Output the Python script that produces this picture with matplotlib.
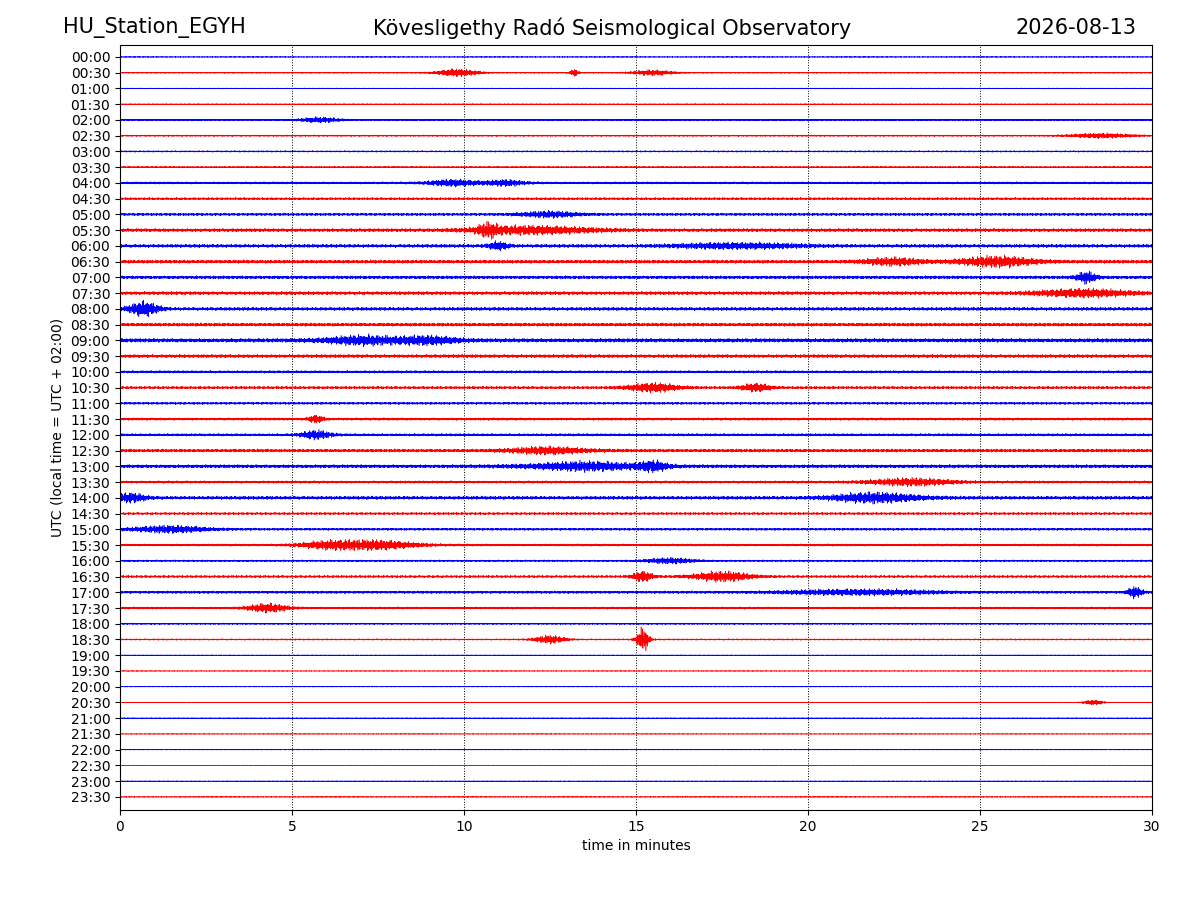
import numpy as np
import matplotlib
matplotlib.use('Agg')
import matplotlib.pyplot as plt

station = 'HU_Station_EGYH'
title = 'Kövesligethy Radó Seismological Observatory'
date = '2026-08-13'
row_labels = ['%02d:%02d' % (h, m) for h in range(24) for m in (0, 30)]

# background noise level of each 30 min line, in line spacings
base_amp = [0.03, 0.05, 0.04, 0.04, 0.06, 0.06, 0.06, 0.06, 0.09, 0.09, 0.10, 0.13,
            0.13, 0.13, 0.12, 0.13, 0.13, 0.13, 0.15, 0.13, 0.10, 0.10, 0.09, 0.10,
            0.10, 0.12, 0.13, 0.10, 0.13, 0.09, 0.09, 0.09, 0.07, 0.09, 0.10, 0.09,
            0.06, 0.06, 0.03, 0.025, 0.025, 0.03, 0.04, 0.025, 0.025, 0.025, 0.03, 0.03]

# visible bursts: line index, centre (min), half width (min), amplitude
burst_row = [1, 1, 1, 4, 5, 8, 8, 10, 11, 11, 12, 12, 13, 13, 14, 15, 16, 18, 18, 21, 21,
             23, 24, 25, 26, 26, 27, 28, 28, 30, 31, 31, 32, 33, 33, 34, 34, 35, 37, 37, 41]
burst_min = [9.8, 15.5, 13.2, 5.8, 28.5, 9.7, 11.2, 12.5, 12.0, 10.7, 11.0, 18.0, 25.5, 22.5,
             28.1, 28.0, 0.7, 7.0, 9.0, 15.5, 18.5, 5.7, 5.7, 12.5, 13.5, 15.5, 23.0, 22.0, 0.3,
             1.5, 7.5, 6.0, 16.0, 17.5, 15.2, 21.5, 29.5, 4.3, 15.2, 12.5, 28.3]
burst_wid = [0.4, 0.4, 0.08, 0.4, 0.6, 0.5, 0.4, 0.6, 1.2, 0.2, 0.2, 1.2, 0.8, 0.6,
             0.2, 0.9, 0.3, 0.8, 0.6, 0.5, 0.3, 0.15, 0.3, 0.8, 1.2, 0.3, 0.9, 0.9, 0.3,
             0.8, 0.8, 0.6, 0.5, 0.6, 0.2, 1.5, 0.15, 0.4, 0.12, 0.3, 0.2]
burst_amp = [0.30, 0.20, 0.30, 0.20, 0.18, 0.25, 0.20, 0.20, 0.30, 0.40, 0.30, 0.20, 0.35, 0.25,
             0.40, 0.30, 0.50, 0.30, 0.30, 0.35, 0.30, 0.30, 0.30, 0.25, 0.30, 0.35, 0.25, 0.35, 0.30,
             0.25, 0.35, 0.25, 0.20, 0.35, 0.40, 0.20, 0.40, 0.30, 0.90, 0.30, 0.20]

t = np.linspace(0, 30, 9000)

fig = plt.figure(figsize=(12, 9), dpi=100)
ax = fig.add_axes([0.1, 0.1, 0.86, 0.85])

for i in range(len(row_labels)):
    env = np.full_like(t, base_amp[i])
    for r, c, w, a in zip(burst_row, burst_min, burst_wid, burst_amp):
        if r == i:
            env = env + a * np.exp(-0.5 * ((t - c) / w) ** 2)
    # deterministic carrier made of incommensurate sines
    k = i + 1
    carrier = (np.sin(t * 517.3 + k) + 0.7 * np.sin(t * 1231.7 + 2.1 * k)
               + 0.5 * np.sin(t * 2894.1 + 0.3 * k)) * (0.6 + 0.4 * np.sin(t * 23.7 + k) ** 2)
    carrier = carrier / 2.2
    color = 'blue' if i % 2 == 0 else 'red'
    ax.plot(t, -i + env * carrier, color=color, lw=0.4)

ax.set_xlim(0, 30)
ax.set_ylim(-47.83, 0.76)
ax.set_yticks(-np.arange(len(row_labels)))
ax.set_yticklabels(row_labels)
ax.set_xticks([0, 5, 10, 15, 20, 25, 30])
ax.xaxis.grid(True, ls=':', color='black', lw=0.7)
ax.set_xlabel('time in minutes')
ax.set_ylabel('UTC (local time = UTC + 02:00)')

fig.text(0.0525, 0.969, station, fontsize=15, ha='left', va='center')
fig.text(0.51, 0.969, title, fontsize=15, ha='center', va='center')
fig.text(0.947, 0.969, date, fontsize=15, ha='right', va='center')

fig.savefig('out.png', dpi=100)
